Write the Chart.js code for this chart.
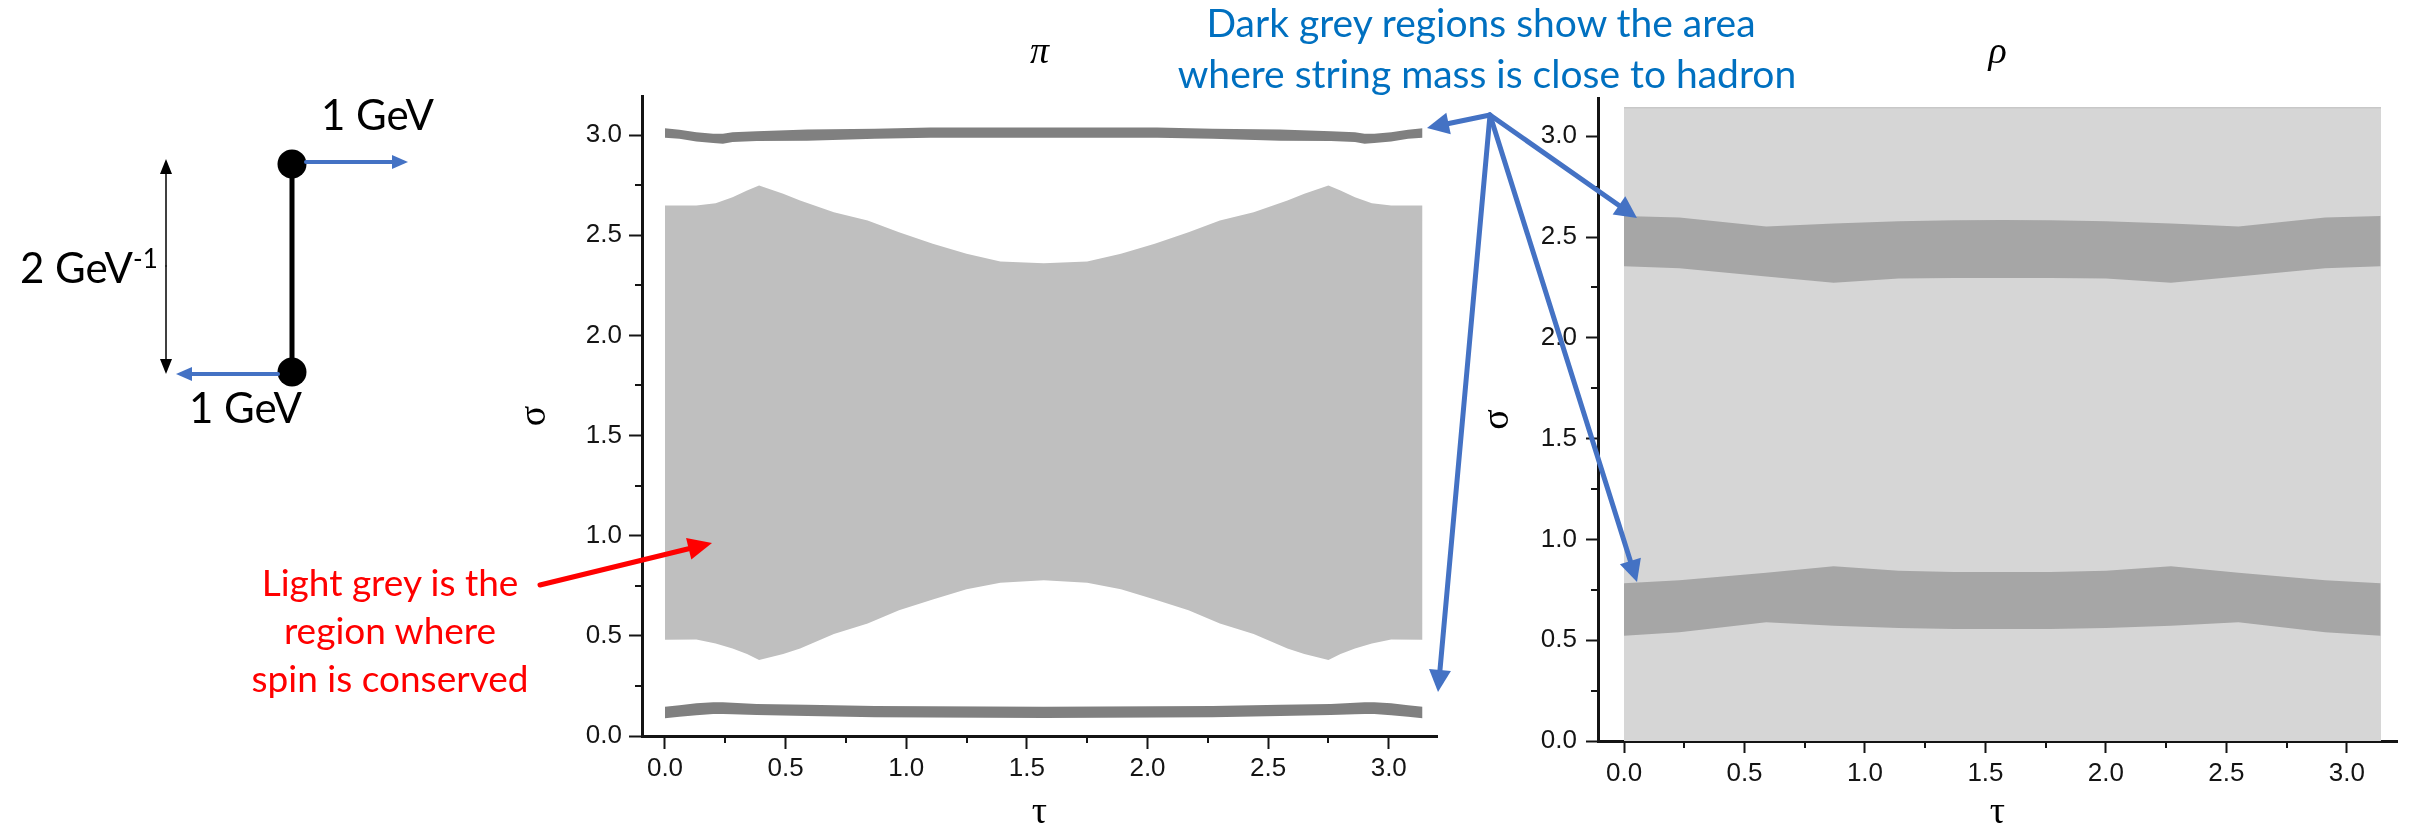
<!DOCTYPE html>
<html>
<head>
<meta charset="utf-8">
<script src="https://cdn.jsdelivr.net/npm/chart.js@4.4.1/dist/chart.umd.min.js"></script>
<style>
  html, body { margin: 0; padding: 0; background: #fff; width: 2412px; height: 832px; overflow: hidden; }
  body { position: relative; }
  canvas.plot { position: absolute; top: 0; }
  #overlay { position: absolute; left: 0; top: 0; width: 2412px; height: 832px; pointer-events: none; }
  #overlay text { font-family: Lato, "Open Sans", sans-serif; }
</style>
</head>
<body>
<canvas class="plot" id="piChart" width="1002" height="832" style="left:516px"></canvas>
<canvas class="plot" id="rhoChart" width="933" height="832" style="left:1479px"></canvas>
<svg id="overlay" xmlns="http://www.w3.org/2000/svg" width="2412" height="832">
  <g id="diagram"></g>
  <g id="pointers"></g>
  <g id="labels">
    <text x="321" y="130" font-size="42" fill="#000">1 GeV</text>
    <text x="189" y="423" font-size="42" fill="#000">1 GeV</text>
    <text x="20" y="283" font-size="42" fill="#000">2 GeV<tspan font-size="26" dy="-15">-1</tspan></text>
    <text x="1481" y="37" font-size="39" fill="#0070C0" text-anchor="middle">Dark grey regions show the area</text>
    <text x="1487" y="88" font-size="39" fill="#0070C0" text-anchor="middle">where string mass is close to hadron</text>
    <text x="390" y="596" font-size="37" fill="#FF0000" text-anchor="middle">Light grey is the</text>
    <text x="390" y="644" font-size="37" fill="#FF0000" text-anchor="middle">region where</text>
    <text x="390" y="692" font-size="37" fill="#FF0000" text-anchor="middle">spin is conserved</text>
  </g>
</svg>
<script>
// ---- axis ticks (both panels) ----
const majorTicks = [0, 0.5, 1.0, 1.5, 2.0, 2.5, 3.0];
const minorTicks = [0.25, 0.75, 1.25, 1.75, 2.25, 2.75];

// ---- π panel: light grey region where spin is conserved ----
const tauSpin   = [0, 0.13, 0.21, 0.28, 0.34, 0.39, 0.49, 0.56, 0.70, 0.84, 0.97, 1.11, 1.25, 1.39, 1.57,
                   1.75, 1.89, 2.03, 2.17, 2.30, 2.44, 2.58, 2.65, 2.75, 2.80, 2.86, 2.93, 3.01, 3.14];
const spinUpper = [2.648, 2.648, 2.66, 2.69, 2.723, 2.748, 2.707, 2.673, 2.615, 2.574, 2.515, 2.457, 2.407, 2.369, 2.36,
                   2.369, 2.407, 2.457, 2.515, 2.574, 2.615, 2.673, 2.707, 2.748, 2.723, 2.69, 2.66, 2.648, 2.648];
const spinLower = [0.48, 0.482, 0.462, 0.437, 0.409, 0.379, 0.409, 0.437, 0.509, 0.562, 0.628, 0.682, 0.732, 0.765, 0.777,
                   0.765, 0.732, 0.682, 0.628, 0.562, 0.509, 0.437, 0.409, 0.379, 0.409, 0.437, 0.462, 0.482, 0.48];

// ---- π panel: dark grey bands (string mass close to the π mass) ----
const tauBandPi    = [0, 0.06, 0.13, 0.20, 0.24, 0.28, 0.38, 0.59, 0.87, 1.10, 1.57, 2.04, 2.27, 2.55, 2.76, 2.86, 2.90, 2.94, 3.01, 3.08, 3.14];
const piHighTop    = [3.034, 3.026, 3.014, 3.006, 3.006, 3.014, 3.019, 3.028, 3.031, 3.038, 3.038, 3.038, 3.031, 3.028, 3.019, 3.014, 3.006, 3.006, 3.014, 3.026, 3.034];
const piHighBottom = [2.986, 2.981, 2.968, 2.96, 2.956, 2.965, 2.97, 2.972, 2.981, 2.986, 2.986, 2.986, 2.981, 2.972, 2.97, 2.965, 2.956, 2.96, 2.968, 2.981, 2.986];
const piLowTop     = [0.146, 0.154, 0.163, 0.168, 0.168, 0.166, 0.16, 0.156, 0.15, 0.148, 0.146, 0.148, 0.15, 0.156, 0.16, 0.166, 0.168, 0.168, 0.163, 0.154, 0.146];
const piLowBottom  = [0.088, 0.096, 0.104, 0.11, 0.11, 0.108, 0.105, 0.1, 0.093, 0.092, 0.09, 0.092, 0.093, 0.1, 0.105, 0.108, 0.11, 0.11, 0.104, 0.096, 0.088];

// ---- ρ panel: spin is conserved everywhere in 0..π ----
const tauSpinRho = [0, 3.1416];
const spinTopRho = [3.1416, 3.1416];

// ---- ρ panel: dark grey bands ----
const tauBandRho    = [0, 0.23, 0.59, 0.87, 1.14, 1.37, 1.57, 1.77, 2.00, 2.27, 2.55, 2.91, 3.14];
const rhoHighTop    = [2.605, 2.597, 2.552, 2.567, 2.579, 2.584, 2.585, 2.584, 2.579, 2.567, 2.552, 2.597, 2.605];
const rhoHighBottom = [2.355, 2.345, 2.305, 2.273, 2.294, 2.297, 2.297, 2.297, 2.294, 2.273, 2.305, 2.345, 2.355];
const rhoLowTop     = [0.783, 0.797, 0.835, 0.867, 0.845, 0.838, 0.838, 0.838, 0.845, 0.867, 0.835, 0.797, 0.783];
const rhoLowBottom  = [0.522, 0.54, 0.589, 0.572, 0.56, 0.556, 0.556, 0.556, 0.56, 0.572, 0.589, 0.54, 0.522];

const INK = '#141414';
const pts = (xs, ys) => xs.map((x, i) => ({ x, y: ys[i] }));

function area(data, fill, color, edge) {
  return {
    data, fill,
    backgroundColor: color,
    borderColor: edge || 'rgba(0,0,0,0)',
    borderWidth: edge ? 1.5 : 0,
    pointRadius: 0, pointHoverRadius: 0, tension: 0
  };
}

// minor tick marks drawn through the chart's own scales
const minorTickMarks = {
  id: 'minorTickMarks',
  afterDraw(chart, _args, opts) {
    const { ctx, chartArea, scales } = chart;
    ctx.save();
    ctx.strokeStyle = INK;
    ctx.lineWidth = 2;
    ctx.beginPath();
    for (const v of minorTicks) {
      const px = Math.round(scales.x.getPixelForValue(v));
      ctx.moveTo(px, chartArea.bottom);
      ctx.lineTo(px, chartArea.bottom + opts.length);
      const py = Math.round(scales.y.getPixelForValue(v));
      ctx.moveTo(chartArea.left, py);
      ctx.lineTo(chartArea.left - opts.length, py);
    }
    ctx.stroke();
    ctx.restore();
  }
};

function buildScales(c) {
  const tickFont = { family: '"Liberation Sans", Arial, sans-serif', size: 26 };
  const symFont = { family: '"Liberation Serif", "Times New Roman", serif', size: 38, lineHeight: 1 };
  const common = (tickLen, pad) => ({
    type: 'linear',
    afterBuildTicks: s => { s.ticks = majorTicks.map(v => ({ value: v })); },
    ticks: { callback: v => v.toFixed(1), font: tickFont, color: INK, padding: pad, maxRotation: 0, autoSkip: false },
    grid: { drawOnChartArea: false, drawTicks: true, tickLength: tickLen, tickWidth: 2, tickColor: INK },
    border: { display: true, color: INK, width: 3 }
  });
  return {
    x: Object.assign(common(c.tick, c.xPad), {
      min: c.xMin, max: c.xMax,
      afterFit: s => { s.height = c.xHeight; },
      title: { display: true, text: 'τ', font: symFont, color: '#000', padding: 0 }
    }),
    y: Object.assign(common(c.tick, c.yPad), {
      min: 0, max: c.yMax,
      afterFit: s => { s.width = c.yWidth; },
      title: { display: true, text: 'σ', font: symFont, color: '#000', padding: 0 }
    })
  };
}

function panel(id, title, datasets, c) {
  return new Chart(document.getElementById(id), {
    type: 'line',
    data: { datasets },
    options: {
      responsive: false,
      animation: false,
      devicePixelRatio: 1,
      layout: { padding: { left: 0, right: c.padRight, top: 0, bottom: 0 } },
      scales: buildScales(c),
      plugins: {
        legend: { display: false },
        tooltip: { enabled: false },
        title: {
          display: true, text: title, color: '#000', fullSize: false,
          font: { family: '"Liberation Serif", "Times New Roman", serif', style: 'italic', weight: 'normal', size: 38, lineHeight: 1 },
          padding: { top: 34, bottom: c.titleGap }
        },
        minorTickMarks: { length: 7 }
      }
    },
    plugins: [minorTickMarks]
  });
}

const LIGHT_PI = '#bfbfbf', DARK_PI = '#808080';
const LIGHT_RHO = '#d6d6d6', DARK_RHO = '#a6a6a6';

panel('piChart', 'π', [
  area(pts(tauSpin, spinUpper), '+1', LIGHT_PI),
  area(pts(tauSpin, spinLower), false, LIGHT_PI),
  area(pts(tauBandPi, piHighTop), '+1', DARK_PI),
  area(pts(tauBandPi, piHighBottom), false, DARK_PI),
  area(pts(tauBandPi, piLowTop), '+1', DARK_PI),
  area(pts(tauBandPi, piLowBottom), false, DARK_PI)
], { xMin: -0.0953, xMax: 3.2, yMax: 3.195, xHeight: 96, yWidth: 126, padRight: 81,
     tick: 13, xPad: 4, yPad: 7, titleGap: 24 });

panel('rhoChart', 'ρ', [
  area(pts(tauBandRho, rhoHighTop), '+1', DARK_RHO),
  area(pts(tauBandRho, rhoHighBottom), false, DARK_RHO),
  area(pts(tauBandRho, rhoLowTop), '+1', DARK_RHO),
  area(pts(tauBandRho, rhoLowBottom), false, DARK_RHO),
  area(pts(tauSpinRho, spinTopRho), 'origin', LIGHT_RHO, '#c8c8c8')
], { xMin: -0.108, xMax: 3.208, yMax: 3.19, xHeight: 91, yWidth: 119, padRight: 15,
     tick: 12, xPad: 5, yPad: 9, titleGap: 26 });

// ---- annotation graphics: string sketch and pointer arrows ----
const NS = 'http://www.w3.org/2000/svg';
function el(parent, name, attrs) {
  const n = document.createElementNS(NS, name);
  for (const k in attrs) n.setAttribute(k, attrs[k]);
  parent.appendChild(n);
  return n;
}
function arrow(parent, x1, y1, x2, y2, color, width, headLen, headHalf) {
  const dx = x2 - x1, dy = y2 - y1, L = Math.hypot(dx, dy);
  const ux = dx / L, uy = dy / L;
  const bx = x2 - ux * headLen, by = y2 - uy * headLen;
  el(parent, 'line', { x1, y1, x2: bx + ux, y2: by + uy, stroke: color, 'stroke-width': width, 'stroke-linecap': 'round' });
  el(parent, 'polygon', {
    points: `${x2},${y2} ${bx - uy * headHalf},${by + ux * headHalf} ${bx + uy * headHalf},${by - ux * headHalf}`,
    fill: color
  });
}

const diagram = document.getElementById('diagram');
el(diagram, 'line', { x1: 292, y1: 164, x2: 292, y2: 372, stroke: '#000', 'stroke-width': 5 });
el(diagram, 'circle', { cx: 292, cy: 164, r: 14.5, fill: '#000' });
el(diagram, 'circle', { cx: 292, cy: 372, r: 14.5, fill: '#000' });
arrow(diagram, 306, 162, 408, 162, '#4472C4', 4, 16, 7);
arrow(diagram, 278, 374, 176, 374, '#4472C4', 4, 16, 7);
arrow(diagram, 166, 266, 166, 159, '#000', 1.5, 15, 6);
arrow(diagram, 166, 266, 166, 374, '#000', 1.5, 15, 6);

const pointers = document.getElementById('pointers');
const apex = [1490, 115];
arrow(pointers, apex[0], apex[1], 1427, 128, '#4472C4', 5, 22, 11);
arrow(pointers, apex[0], apex[1], 1637, 218, '#4472C4', 5, 22, 11);
arrow(pointers, apex[0], apex[1], 1637, 582, '#4472C4', 5, 22, 11);
arrow(pointers, apex[0], apex[1], 1438, 692, '#4472C4', 5, 22, 11);
arrow(pointers, 540, 585, 712, 543, '#FF0000', 5, 24, 11);
</script>
</body>
</html>
